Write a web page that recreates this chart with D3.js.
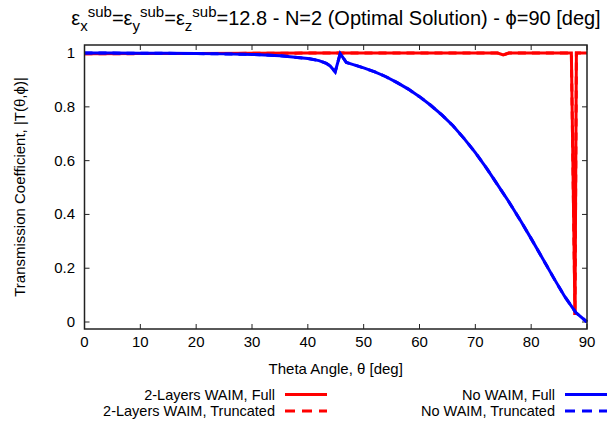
<!DOCTYPE html>
<html><head><meta charset="utf-8">
<script src="https://cdn.jsdelivr.net/npm/d3@7"></script>
<style>
body{margin:0;background:#fff;}
svg{display:block;font-family:"Liberation Sans",Arial,Helvetica,sans-serif;}
</style></head>
<body><svg id="c" width="612" height="424"></svg>
<script>
// ---- data ----
const thetaRed = [0,10,20,30,40,50,60,70,74,75,76,80,85,87.2,87.85,88.1,89,90];
const redFull  = [0.997,0.998,0.998,0.999,1.0,1.0,1.0,1.0,1.0,0.993,1.0,1.0,1.0,1.0,0.026,1.0,1.0,1.0];
const redTrunc = redFull.slice();
const thetaBlue = [0,5,10,15,20,25,30,35,40,42,43.3,44,44.9,45.8,46.9,48,50,52,54,56,58,60,62,64,66,68,70,72,74,76,78,80,82,84,86,88,90];
const blueFull  = [1.0,1.0,0.999,0.999,0.998,0.997,0.995,0.99,0.98,0.972,0.962,0.952,0.93,0.998,0.965,0.958,0.945,0.93,0.912,0.89,0.866,0.838,0.806,0.77,0.73,0.682,0.63,0.572,0.51,0.447,0.38,0.31,0.238,0.165,0.095,0.035,0.0];
const blueTrunc = blueFull.slice();
const xTicks = [0,10,20,30,40,50,60,70,80,90];
const yTicks = [0,0.2,0.4,0.6,0.8,1];
const seriesNames = ["2-Layers WAIM, Full","2-Layers WAIM, Truncated","No WAIM, Full","No WAIM, Truncated"];
const seriesColors = ["#ff0000","#ff0000","#0000ff","#0000ff"];

// ---- layout ----
const svg = d3.select("#c");
const L = 84.5, R = 587, T = 45, B = 329;
const x = d3.scaleLinear().domain([0,90]).range([L,R]);
const y = d3.scaleLinear().domain([-0.026,1.03]).range([B,T]);

const axisColor = "#222";
const tl = 5;
const g = svg.append("g").attr("stroke",axisColor).attr("stroke-width",1);
xTicks.forEach(t=>{
  g.append("line").attr("x1",x(t)).attr("x2",x(t)).attr("y1",B).attr("y2",B-tl);
  g.append("line").attr("x1",x(t)).attr("x2",x(t)).attr("y1",T).attr("y2",T+tl);
});
yTicks.forEach(t=>{
  g.append("line").attr("x1",L).attr("x2",L+tl).attr("y1",y(t)).attr("y2",y(t));
  g.append("line").attr("x1",R).attr("x2",R-tl).attr("y1",y(t)).attr("y2",y(t));
});

// lines
const line = d3.line().x(d=>x(d[0])).y(d=>y(d[1]));
const series = [
  {th:thetaRed, v:redFull, dash:null},
  {th:thetaRed, v:redTrunc, dash:"8,6"},
  {th:thetaBlue, v:blueFull, dash:null},
  {th:thetaBlue, v:blueTrunc, dash:"8,6"}
];
series.forEach((s,i)=>{
  svg.append("path").datum(s.th.map((t,j)=>[t,s.v[j]]))
    .attr("d",line).attr("fill","none").attr("stroke",seriesColors[i])
    .attr("stroke-width",3).attr("stroke-linejoin","miter").attr("stroke-miterlimit",10)
    .attr("stroke-dasharray",s.dash);
});

// frame
svg.append("rect").attr("x",L).attr("y",T).attr("width",R-L).attr("height",B-T)
  .attr("fill","none").attr("stroke",axisColor).attr("stroke-width",1.5);

// tick labels
const fs = 15;
xTicks.forEach(t=>{
  svg.append("text").attr("x",x(t)).attr("y",347).attr("text-anchor","middle")
    .attr("font-size",fs).attr("fill","#000").text(t);
});
yTicks.forEach(t=>{
  svg.append("text").attr("x",75).attr("y",y(t)+5).attr("text-anchor","end")
    .attr("font-size",fs).attr("fill","#000").text(t);
});

// axis labels
svg.append("text").attr("x",(L+R)/2).attr("y",374).attr("text-anchor","middle")
  .attr("font-size",fs).text("Theta Angle, \u03B8 [deg]");
svg.append("text").attr("transform","translate(25,187) rotate(-90)").attr("text-anchor","middle")
  .attr("font-size",fs).text("Transmission Coefficient, |T(\u03B8,\u03D5)|");

// title
const title = svg.append("text").attr("x",336).attr("y",25).attr("text-anchor","middle").attr("font-size",20);
const parts = [["\u03B5",0],["x",1],["sub",2],["=\u03B5",0],["y",1],["sub",2],["=\u03B5",0],["z",1],["sub",2],["=12.8 - N=2 (Optimal Solution) - \u03D5=90 [deg]",0]];
let cur = 0;
parts.forEach(([txt,k])=>{
  const sp = title.append("tspan").text(txt);
  let target = k===1 ? 6 : (k===2 ? -8 : 0);
  sp.attr("dy", target-cur); cur = target;
  if(k>0) sp.attr("font-size",15);
});

// legend
const legX = [275, 555];
const legY = [394.5, 411];
const lfs = 14.5;
seriesNames.forEach((n,i)=>{
  const col = Math.floor(i/2), row = i%2;
  svg.append("text").attr("x",legX[col]).attr("y",legY[row]+5).attr("text-anchor","end")
    .attr("font-size",lfs).text(n);
  svg.append("line").attr("x1",legX[col]+10).attr("x2",legX[col]+52)
    .attr("y1",legY[row]).attr("y2",legY[row]).attr("stroke",seriesColors[i]).attr("stroke-width",3)
    .attr("stroke-dasharray",i%2===1?"10,7":null);
});
</script></body></html>
